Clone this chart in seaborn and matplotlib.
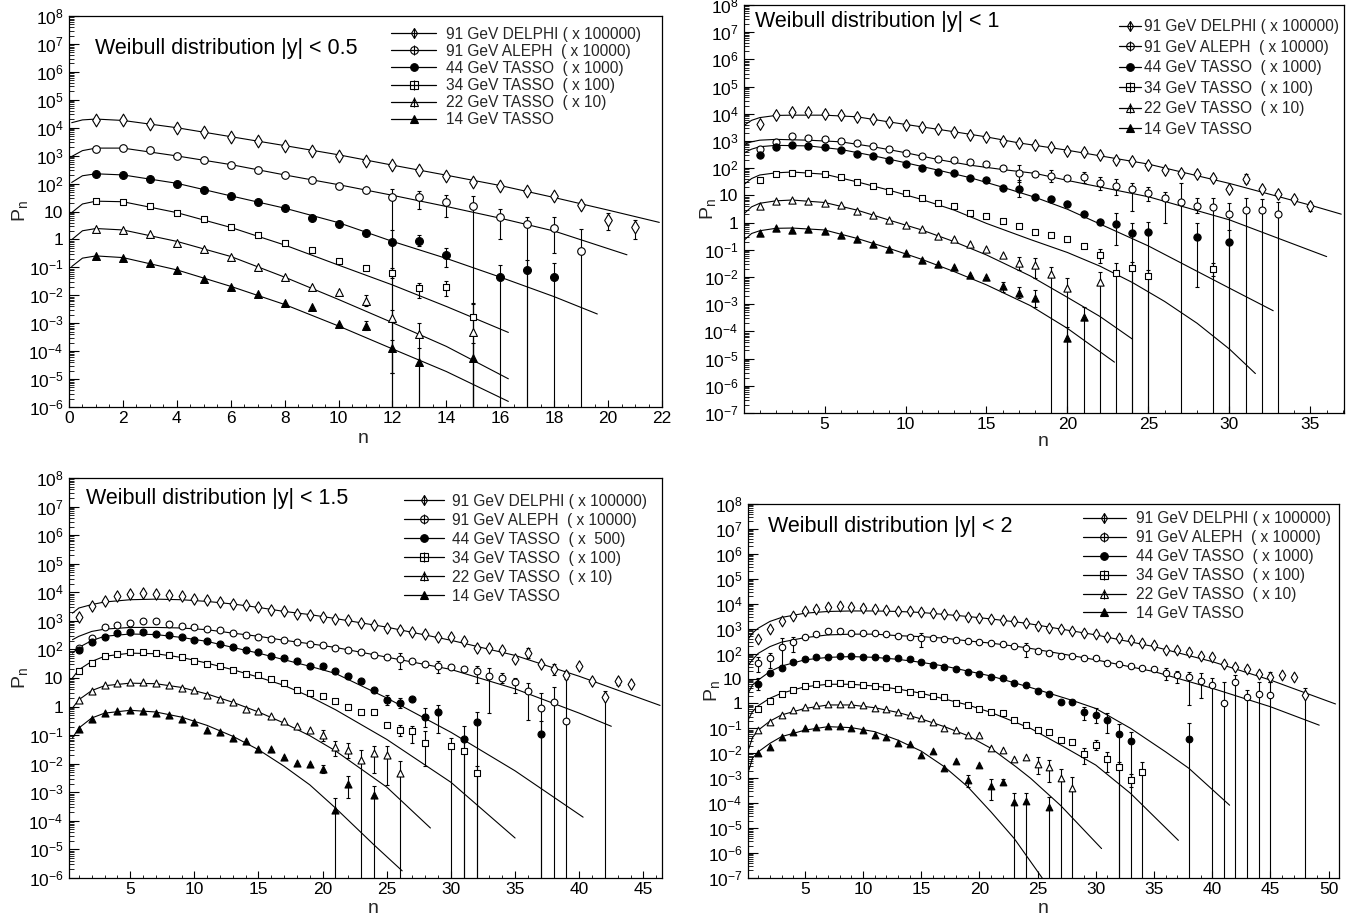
import numpy as np
import matplotlib
matplotlib.use("Agg")
import matplotlib.pyplot as plt
from matplotlib.lines import Line2D
from matplotlib.legend_handler import HandlerTuple
from matplotlib.ticker import MultipleLocator, LogLocator, NullFormatter
import seaborn as sns

# ======================= DATA (log10 P_n) =======================
# error bars: (n, log10 upper end, log10 lower end or None = runs off the bottom)

LABELS_A = ["91 GeV DELPHI ( x 100000)", "91 GeV ALEPH  ( x 10000)", "44 GeV TASSO  ( x 1000)",
            "34 GeV TASSO  ( x 100)", "22 GeV TASSO  ( x 10)", "14 GeV TASSO"]
LABELS_B = ["91 GeV DELPHI ( x 100000)", "91 GeV ALEPH  ( x 10000)", "44 GeV TASSO  ( x  500)",
            "34 GeV TASSO  ( x 100)", "22 GeV TASSO  ( x 10)", "14 GeV TASSO"]
TITLES = ["Weibull distribution |y| < 0.5", "Weibull distribution |y| < 1",
          "Weibull distribution |y| < 1.5", "Weibull distribution |y| < 2"]

# ---------- |y| < 0.5 ----------
p1_delphi_n = list(range(1, 22))
p1_delphi = [4.26, 4.26, 4.14, 3.98, 3.83, 3.67, 3.52, 3.34, 3.17, 3.00, 2.81, 2.65, 2.49, 2.28, 2.06,
             1.93, 1.73, 1.54, 1.25, 0.70, 0.46]
p1_delphi_err = [(20, 0.94, 0.34), (21, 0.68, 0.01)]
p1_delphi_fit_n = [0.1, 0.5, 1, 2, 4, 6, 8, 10, 12, 14, 16, 18, 20, 21.9]
p1_delphi_fit = [4.18, 4.28, 4.31, 4.26, 4.00, 3.68, 3.36, 3.03, 2.66, 2.30, 1.93, 1.50, 1.05, 0.61]

p1_aleph_n = list(range(1, 20))
p1_aleph = [3.24, 3.28, 3.21, 2.99, 2.85, 2.68, 2.48, 2.31, 2.11, 1.92, 1.78, 1.51, 1.51, 1.33, 1.20,
            0.82, 0.56, 0.42, -0.42]
p1_aleph_err = [(12, 1.80, None), (13, 1.72, 1.08), (14, 1.60, 0.82), (15, 1.54, None), (16, 1.08, 0.01),
                (17, 0.82, None), (18, 0.82, -0.49), (19, 0.37, None)]
p1_aleph_fit_n = [0.1, 0.5, 1, 2, 4, 6, 8, 10, 12, 14, 16, 18, 20.7]
p1_aleph_fit = [2.97, 3.18, 3.27, 3.27, 2.99, 2.68, 2.31, 1.96, 1.58, 1.18, 0.76, 0.30, -0.55]

p1_t44_n = list(range(1, 15)) + [16, 17, 18]
p1_t44 = [2.34, 2.29, 2.16, 2.00, 1.78, 1.56, 1.35, 1.12, 0.77, 0.55, 0.23, -0.10, -0.04, -0.54,
          -1.35, -1.09, -1.35]
p1_t44_err = [(12, 0.34, None), (13, 0.17, -0.25), (14, -0.31, -0.97), (16, -0.91, None),
              (17, -0.73, None), (18, -0.85, None)]
p1_t44_fit_n = [0.1, 0.5, 1, 2, 4, 6, 8, 10, 12, 14, 16, 18, 19.6]
p1_t44_fit = [2.04, 2.28, 2.35, 2.31, 2.01, 1.56, 1.12, 0.60, -0.07, -0.68, -1.35, -2.05, -2.67]

p1_t34_n = list(range(1, 16))
p1_t34 = [1.37, 1.35, 1.18, 0.96, 0.73, 0.43, 0.17, -0.11, -0.38, -0.77, -1.03, -1.19, -1.73, -1.72, -2.78]
p1_t34_err = [(12, -1.03, -1.38), (13, -1.56, -2.10), (14, -1.50, -2.04), (15, -2.30, None)]
p1_t34_fit_n = [0.1, 0.5, 1, 2, 4, 6, 8, 10, 12, 14, 16.3]
p1_t34_fit = [0.96, 1.27, 1.37, 1.35, 0.96, 0.43, -0.20, -0.92, -1.63, -2.40, -3.33]

p1_t22_n = list(range(1, 14)) + [15]
p1_t22 = [0.39, 0.32, 0.18, -0.11, -0.35, -0.63, -0.97, -1.36, -1.71, -1.89, -2.20, -2.83, -3.40, -3.33]
p1_t22_err = [(11, -1.98, -2.40), (12, -2.52, -4.78), (13, -3.00, None), (15, -2.28, None)]
p1_t22_fit_n = [0.1, 0.5, 1, 2, 4, 6, 8, 10, 12, 14, 16.3]
p1_t22_fit = [-0.01, 0.31, 0.39, 0.34, -0.07, -0.61, -1.35, -2.15, -2.98, -3.83, -4.99]

p1_t14_n = list(range(1, 14)) + [15]
p1_t14 = [-0.61, -0.67, -0.85, -1.11, -1.42, -1.71, -1.97, -2.28, -2.43, -3.03, -3.10, -3.90, -4.40, -4.25]
p1_t14_err = [(11, -2.93, -3.23), (12, -3.59, -4.78), (13, -3.90, None), (15, -3.71, None)]
p1_t14_fit_n = [0.1, 0.5, 1, 2, 4, 6, 8, 10, 12, 14, 16.3]
p1_t14_fit = [-0.97, -0.67, -0.59, -0.65, -1.09, -1.68, -2.33, -3.10, -3.92, -4.73, -5.80]

# ---------- |y| < 1 ----------
p2_delphi_n = list(range(1, 36))
p2_delphi = [3.62, 3.95, 4.07, 4.07, 4.01, 3.95, 3.89, 3.80, 3.69, 3.58, 3.50, 3.43, 3.34, 3.21, 3.13,
             3.00, 2.94, 2.86, 2.77, 2.65, 2.60, 2.47, 2.30, 2.27, 2.10, 1.95, 1.84, 1.78, 1.65, 1.23,
             1.62, 1.22, 1.05, 0.87, 0.61]
p2_delphi_err = [(31, 1.78, 1.44), (35, 0.77, 0.44)]
p2_delphi_fit_n = [0.05, 0.5, 1, 2, 3, 5, 7, 9, 11, 13, 15, 17, 20, 25, 30, 35, 36.9]
p2_delphi_fit = [3.58, 3.76, 3.86, 3.94, 3.95, 3.95, 3.89, 3.70, 3.52, 3.34, 3.15, 2.93, 2.66, 2.15,
                 1.44, 0.64, 0.31]

p2_aleph_n = list(range(1, 34))
p2_aleph = [2.72, 2.97, 3.18, 3.12, 3.09, 3.00, 2.91, 2.81, 2.69, 2.57, 2.46, 2.33, 2.30, 2.23, 2.15,
            1.99, 1.81, 1.77, 1.71, 1.64, 1.67, 1.46, 1.35, 1.22, 1.07, 0.90, 0.77, 0.61, 0.58, 0.30,
            0.46, 0.46, 0.30]
p2_aleph_err = [(17, 2.11, 1.50), (19, 1.93, 1.50), (21, 1.87, 1.46), (22, 1.68, 1.19), (23, 1.62, 1.00),
                (24, 1.46, 0.44), (25, 1.32, 0.80), (26, 1.13, -0.01), (27, 1.46, None), (28, 0.89, 0.34),
                (29, 0.89, None), (30, 0.71, None), (31, 0.89, None), (32, 0.85, None), (33, 0.77, None)]
p2_aleph_fit_n = [0.05, 0.5, 1, 2, 4, 6, 8, 10, 12, 14, 16, 18, 20, 25, 30, 36]
p2_aleph_fit = [2.88, 2.97, 3.03, 3.06, 3.03, 2.97, 2.79, 2.57, 2.32, 2.11, 1.95, 1.81, 1.55, 0.95,
                0.10, -1.25]

p2_t44_n = list(range(1, 26)) + [28, 30]
p2_t44 = [2.48, 2.79, 2.85, 2.82, 2.79, 2.66, 2.52, 2.46, 2.30, 2.17, 1.99, 1.87, 1.81, 1.65, 1.56,
          1.29, 1.22, 0.95, 0.85, 0.67, 0.30, 0.02, -0.05, -0.40, -0.33, -0.54, -0.70]
p2_t44_err = [(17, 1.56, 0.95), (23, 0.34, -0.83), (24, -0.03, None), (25, 0.03, None),
              (28, -0.03, -2.36), (30, -0.27, None)]
p2_t44_fit_n = [0.05, 0.5, 1, 2, 4, 6, 8, 10, 12, 14, 16, 18, 20, 25, 30, 32.7]
p2_t44_fit = [2.57, 2.70, 2.79, 2.84, 2.82, 2.69, 2.46, 2.20, 1.93, 1.65, 1.30, 0.93, 0.49, -0.86,
              -2.41, -3.24]

p2_t34_n = list(range(1, 26)) + [29]
p2_t34 = [1.56, 1.78, 1.84, 1.81, 1.77, 1.66, 1.49, 1.35, 1.17, 1.10, 0.89, 0.71, 0.61, 0.37, 0.25,
          0.07, -0.12, -0.36, -0.47, -0.62, -0.85, -1.19, -1.87, -1.66, -1.96, -1.72]
p2_t34_err = [(22, -0.98, -1.50), (23, -1.50, None), (24, -1.44, None), (25, -1.74, None),
              (29, -1.50, -1.95)]
p2_t34_fit_n = [0.05, 0.5, 1, 2, 3, 5, 7, 9, 11, 13, 15, 17.7, 20, 22, 24, 26, 28, 30, 31.6]
p2_t34_fit = [1.41, 1.62, 1.75, 1.83, 1.86, 1.78, 1.50, 1.19, 0.85, 0.46, -0.03, -0.62, -1.10, -1.60,
              -2.20, -2.90, -3.70, -4.65, -5.55]

p2_t22_n = list(range(1, 21)) + [22]
p2_t22 = [0.62, 0.79, 0.83, 0.79, 0.73, 0.64, 0.44, 0.28, 0.09, -0.09, -0.25, -0.49, -0.62, -0.79,
          -0.96, -1.19, -1.47, -1.56, -1.90, -2.42, -2.17]
p2_t22_err = [(17, -1.25, -1.74), (18, -1.31, -2.05), (19, -1.62, None), (20, -2.05, None),
              (22, -1.80, None)]
p2_t22_fit_n = [0.05, 0.5, 1, 2, 3, 5, 7, 9, 11, 13, 15, 17.7, 20, 22, 24]
p2_t22_fit = [0.34, 0.58, 0.71, 0.80, 0.83, 0.74, 0.46, 0.09, -0.27, -0.70, -1.19, -1.96, -2.75,
              -3.45, -4.28]

p2_t14_n = list(range(1, 19)) + [20, 21]
p2_t14 = [-0.40, -0.21, -0.27, -0.25, -0.31, -0.46, -0.62, -0.79, -0.97, -1.13, -1.38, -1.52, -1.62,
          -1.94, -1.99, -2.33, -2.58, -2.76, -4.25, -3.48]
p2_t14_err = [(16, -2.17, -2.54), (17, -2.36, -2.78), (18, -2.48, -3.09), (20, -3.82, None),
              (21, -3.09, None)]
p2_t14_fit_n = [0.05, 0.5, 1, 2, 3, 5, 7, 9, 11, 13, 15, 17.7, 20, 22.9]
p2_t14_fit = [-0.64, -0.40, -0.30, -0.21, -0.20, -0.27, -0.58, -0.95, -1.35, -1.80, -2.29, -3.05,
              -3.89, -5.13]

# ---------- |y| < 1.5 ----------
p3_delphi_n = list(range(1, 45))
p3_delphi = [3.12, 3.51, 3.71, 3.86, 3.94, 3.96, 3.94, 3.92, 3.86, 3.78, 3.72, 3.66, 3.59, 3.54, 3.47,
             3.37, 3.33, 3.25, 3.19, 3.15, 3.08, 3.02, 2.92, 2.84, 2.75, 2.69, 2.60, 2.53, 2.43, 2.42,
             2.28, 2.05, 2.05, 1.99, 1.66, 1.87, 1.49, 1.31, 1.09, 1.41, 0.91, 0.32, 0.91, 0.79]
p3_delphi_err = [(36, 2.05, 1.70), (38, 1.49, 1.12), (39, 1.25, 0.95), (42, 0.53, None), (43, 1.00, 0.77)]
p3_delphi_fit_n = [0.5, 1, 2, 3, 5, 7, 9, 11, 13, 15, 17, 19, 21, 25, 30, 35, 40, 46.3]
p3_delphi_fit = [3.27, 3.45, 3.57, 3.66, 3.74, 3.76, 3.74, 3.68, 3.59, 3.47, 3.33, 3.22, 3.08, 2.78,
                 2.32, 1.79, 1.06, 0.04]

p3_aleph_n = list(range(1, 40))
p3_aleph = [2.05, 2.40, 2.77, 2.87, 2.92, 3.01, 2.98, 2.89, 2.81, 2.77, 2.73, 2.67, 2.57, 2.49, 2.43,
            2.38, 2.32, 2.25, 2.20, 2.14, 2.05, 1.99, 1.90, 1.82, 1.72, 1.68, 1.58, 1.49, 1.43, 1.40,
            1.33, 1.26, 1.08, 1.00, 0.86, 0.53, -0.05, 0.15, -0.52]
p3_aleph_err = [(26, 1.87, 1.33), (29, 1.58, 1.17), (32, 1.41, 0.82), (33, 1.35, -0.23), (34, 1.17, 0.82),
                (35, 1.00, 0.47), (36, 0.82, -0.46), (37, 0.47, None), (38, 0.67, None), (39, 1.12, None)]
p3_aleph_fit_n = [0.5, 1, 2, 3, 5, 7, 9, 11, 13, 15, 17, 19, 21, 25, 30, 35, 40, 42.5]
p3_aleph_fit = [2.34, 2.46, 2.63, 2.71, 2.77, 2.77, 2.75, 2.69, 2.57, 2.46, 2.32, 2.20, 2.07, 1.73,
                1.30, 0.62, -0.23, -0.69]

p3_t44_n = list(range(1, 30)) + [31, 32, 37]
p3_t44 = [1.99, 2.26, 2.42, 2.57, 2.61, 2.60, 2.54, 2.52, 2.43, 2.34, 2.28, 2.19, 2.07, 1.99, 1.91,
          1.78, 1.70, 1.58, 1.43, 1.41, 1.23, 1.06, 0.91, 0.59, 0.24, 0.12, 0.28, -0.37, -0.19,
          -1.12, -0.54, -0.96]
p3_t44_err = [(25, 0.42, 0.07), (26, 0.30, -0.05), (28, -0.05, -0.70), (29, 0.07, -0.93),
              (31, -0.69, None), (32, -0.19, None), (37, -0.52, None)]
p3_t44_fit_n = [0.5, 1, 2, 3, 5, 7, 9, 11, 13, 15, 17, 19, 21, 25, 30, 35, 40.3]
p3_t44_fit = [1.87, 2.07, 2.31, 2.46, 2.54, 2.52, 2.42, 2.28, 2.07, 1.87, 1.64, 1.41, 1.16, 0.30,
              -0.90, -2.25, -3.87]

p3_t34_n = list(range(1, 29)) + [30, 31, 32]
p3_t34 = [1.26, 1.52, 1.76, 1.85, 1.90, 1.90, 1.87, 1.79, 1.72, 1.61, 1.49, 1.41, 1.27, 1.15, 1.09,
          0.96, 0.81, 0.59, 0.47, 0.38, 0.18, -0.03, -0.19, -0.19, -0.66, -0.81, -0.87, -1.28,
          -1.39, -1.54, -2.33]
p3_t34_err = [(26, -0.63, -1.04), (27, -0.69, -1.28), (28, -0.87, -2.09), (30, -1.10, None),
              (31, -1.10, None), (32, -2.09, None)]
p3_t34_fit_n = [0.5, 1, 2, 3, 5, 7, 9, 11, 13, 15, 17, 19, 21, 25, 30, 35]
p3_t34_fit = [1.00, 1.29, 1.58, 1.76, 1.87, 1.85, 1.72, 1.52, 1.29, 1.03, 0.74, 0.35, -0.11, -1.15,
              -2.65, -4.60]

p3_t22_n = list(range(1, 27))
p3_t22 = [0.24, 0.53, 0.77, 0.82, 0.85, 0.86, 0.81, 0.77, 0.65, 0.57, 0.42, 0.26, 0.15, -0.07, -0.14,
          -0.34, -0.49, -0.69, -0.83, -1.01, -1.43, -1.51, -1.86, -1.63, -1.69, -2.33]
p3_t22_err = [(20, -0.81, -1.22), (21, -1.22, -1.74), (22, -1.28, -1.80), (23, -1.51, None),
              (24, -1.39, -2.33), (25, -1.39, -2.74), (26, -1.92, None)]
p3_t22_fit_n = [0.5, 1, 2, 3, 5, 7, 9, 11, 13, 15, 17, 19, 21, 25, 28.4]
p3_t22_fit = [-0.05, 0.24, 0.56, 0.73, 0.82, 0.80, 0.67, 0.44, 0.15, -0.19, -0.58, -1.02, -1.55,
              -2.82, -4.25]

p3_t14_n = list(range(1, 23)) + [24]
p3_t14 = [-0.77, -0.42, -0.23, -0.17, -0.13, -0.14, -0.23, -0.28, -0.42, -0.54, -0.81, -0.90, -1.10,
          -1.20, -1.48, -1.48, -1.78, -1.98, -2.00, -2.18, -3.61, -2.71, -3.09]
p3_t14_err = [(20, -2.03, -2.33), (21, -3.20, None), (22, -2.44, -3.20), (24, -2.79, None)]
p3_t14_fit_n = [0.5, 1, 2, 3, 5, 7, 9, 11, 13, 15, 17, 19, 21, 24, 26.2]
p3_t14_fit = [-1.10, -0.75, -0.40, -0.23, -0.13, -0.19, -0.37, -0.66, -1.04, -1.51, -2.09, -2.74,
              -3.55, -4.84, -5.75]

# ---------- |y| < 2 ----------
p4_delphi_n = list(range(1, 49))
p4_delphi = [2.59, 2.98, 3.29, 3.49, 3.69, 3.78, 3.85, 3.89, 3.85, 3.82, 3.79, 3.75, 3.71, 3.69, 3.66,
             3.62, 3.58, 3.53, 3.45, 3.42, 3.39, 3.35, 3.31, 3.22, 3.11, 3.04, 2.98, 2.92, 2.84, 2.78,
             2.68, 2.62, 2.55, 2.42, 2.35, 2.15, 2.15, 2.05, 1.92, 1.88, 1.59, 1.48, 1.38, 1.17, 1.08,
             1.14, 1.08, 0.34]
p4_delphi_err = [(45, 1.28, 0.88), (48, 0.61, None)]
p4_delphi_fit_n = [0.2, 0.5, 1, 2, 3, 5, 7, 9, 11, 13, 15, 17, 19, 21, 24, 30, 35, 40, 45, 50.6]
p4_delphi_fit = [2.62, 2.82, 3.02, 3.29, 3.45, 3.62, 3.69, 3.71, 3.71, 3.69, 3.65, 3.57, 3.49, 3.39,
                 3.22, 2.75, 2.28, 1.68, 0.94, -0.02]

p4_aleph_n = list(range(1, 46))
p4_aleph = [1.61, 1.81, 2.28, 2.48, 2.66, 2.78, 2.91, 2.91, 2.84, 2.82, 2.82, 2.78, 2.72, 2.68, 2.64,
            2.62, 2.59, 2.55, 2.51, 2.48, 2.42, 2.38, 2.31, 2.21, 2.11, 2.01, 1.92, 1.92, 1.84, 1.81,
            1.61, 1.57, 1.52, 1.41, 1.37, 1.21, 1.14, 1.08, 0.90, 0.74, 0.00, 0.88, 0.27, 0.37, 0.34]
p4_aleph_err = [(1, 1.88, 1.28), (2, 2.01, 1.41), (3, 2.62, 1.54), (4, 2.68, 2.08), (15, 2.82, 2.28),
                (24, 2.42, 1.88), (36, 1.41, 0.94), (37, 1.30, 0.81), (38, 1.28, -0.06), (39, 1.21, 0.21),
                (40, 1.01, None), (41, 0.88, None), (42, 1.14, None), (43, 0.54, None), (44, 0.88, None),
                (45, 0.88, None)]
p4_aleph_fit_n = [0.2, 0.5, 1, 2, 3, 5, 7, 9, 11, 13, 15, 17, 19, 21, 24, 30, 35, 40, 45, 49.2]
p4_aleph_fit = [1.57, 1.75, 2.01, 2.28, 2.46, 2.64, 2.75, 2.78, 2.78, 2.72, 2.68, 2.62, 2.51, 2.42,
                2.24, 1.75, 1.28, 0.61, -0.13, -0.87]

p4_t44_n = list(range(1, 34)) + [38]
p4_t44 = [0.78, 1.21, 1.44, 1.65, 1.79, 1.85, 1.88, 1.91, 1.92, 1.88, 1.88, 1.84, 1.81, 1.77, 1.65,
          1.54, 1.48, 1.37, 1.28, 1.17, 1.08, 1.04, 0.84, 0.74, 0.51, 0.37, 0.05, 0.05, -0.33, -0.46,
          -0.68, -1.24, -1.51, -1.44]
p4_t44_err = [(1, 1.01, 0.54), (29, -0.13, -0.66), (30, -0.20, -0.80), (31, -0.40, -1.20),
              (32, -0.84, None), (33, -1.13, None), (38, -0.80, None)]
p4_t44_fit_n = [0.2, 0.5, 1, 2, 3, 5, 7, 9, 11, 13, 15, 17, 19, 21, 24.4, 28, 30, 33, 36, 38, 41.5]
p4_t44_fit = [0.47, 0.74, 0.94, 1.28, 1.50, 1.75, 1.85, 1.88, 1.85, 1.77, 1.65, 1.50, 1.30, 1.10, 0.64,
              0.12, -0.20, -1.00, -1.94, -2.60, -4.08]

p4_t34_n = list(range(1, 35))
p4_t34 = [-0.22, 0.11, 0.37, 0.54, 0.71, 0.77, 0.81, 0.81, 0.78, 0.74, 0.71, 0.67, 0.58, 0.47, 0.37,
          0.31, 0.25, 0.03, -0.06, -0.22, -0.33, -0.40, -0.66, -0.87, -1.07, -1.13, -1.47, -1.56,
          -2.04, -1.67, -2.23, -2.54, -3.08, -2.74]
p4_t34_err = [(29, -1.80, -2.41), (30, -1.47, -1.87), (31, -1.94, -2.74), (32, -2.34, None),
              (33, -2.81, -3.34), (34, -2.34, None)]
p4_t34_fit_n = [0.2, 0.5, 1, 2, 3, 5, 7, 9, 11, 13, 15, 17, 19, 21, 24.4, 27, 30, 33, 37.1]
p4_t34_fit = [-0.60, -0.33, -0.09, 0.21, 0.41, 0.67, 0.77, 0.77, 0.70, 0.58, 0.41, 0.18, -0.06, -0.36,
              -1.00, -1.67, -2.47, -3.61, -5.49]

p4_t22_n = list(range(1, 29))
p4_t22 = [-1.07, -0.76, -0.46, -0.26, -0.16, -0.06, -0.04, -0.02, -0.04, -0.06, -0.17, -0.24, -0.36,
          -0.46, -0.57, -0.76, -1.00, -1.07, -1.27, -1.27, -1.80, -1.87, -2.23, -2.14, -2.41, -2.54,
          -2.97, -3.41]
p4_t22_err = [(25, -2.14, -2.81), (26, -2.27, -3.14), (27, -2.61, None), (28, -2.94, None)]
p4_t22_fit_n = [0.2, 0.5, 1, 2, 3, 5, 7, 9, 11, 13, 15, 17, 19, 21, 23.15, 24.4, 27, 30.5]
p4_t22_fit = [-1.80, -1.37, -1.07, -0.71, -0.46, -0.20, -0.06, -0.06, -0.17, -0.36, -0.62, -0.93,
              -1.29, -1.80, -2.54, -3.00, -4.10, -5.82]

p4_t14_n = list(range(1, 25)) + [26]
p4_t14 = [-2.00, -1.74, -1.33, -1.13, -1.00, -0.93, -0.91, -0.91, -1.00, -1.07, -1.27, -1.33, -1.60,
          -1.64, -2.07, -1.91, -2.57, -2.31, -3.05, -2.47, -3.30, -3.14, -3.97, -3.92, -4.15]
p4_t14_err = [(19, -2.87, -3.34), (21, -3.01, -3.88), (22, -3.01, -3.28), (23, -3.61, None),
              (24, -3.61, None), (26, -3.74, None)]
p4_t14_fit_n = [0.2, 0.5, 1, 2, 3, 5, 7, 9, 11, 13, 15, 17, 19, 21, 23, 25.4]
p4_t14_fit = [-2.67, -2.20, -1.94, -1.60, -1.33, -1.07, -0.93, -0.97, -1.13, -1.47, -1.91, -2.54,
              -3.34, -4.35, -5.42, -7.00]

# ======================= STYLE / LAYOUT =======================
sns.set_theme(style="ticks")
plt.rcParams["font.family"] = ["Liberation Sans", "DejaVu Sans"]
plt.rcParams["mathtext.default"] = "regular"
plt.rcParams["axes.linewidth"] = 0.9
plt.rcParams["legend.numpoints"] = 1

KEYS = ["delphi", "aleph", "t44", "t34", "t22", "t14"]
STYLE = {
    "delphi": dict(marker="d", filled=False, s=42, cross=True),
    "aleph": dict(marker="o", filled=False, s=30, cross=True),
    "t44": dict(marker="o", filled=True, s=32, cross=False),
    "t34": dict(marker="s", filled=False, s=25, cross=True),
    "t22": dict(marker="^", filled=False, s=32, cross=True),
    "t14": dict(marker="^", filled=True, s=32, cross=False),
}

W, H = 1356, 917


def rect(left, right, top, bottom):
    return [left / W, 1 - bottom / H, (right - left) / W, (bottom - top) / H]


def series_of(prefix):
    g = globals()
    out = []
    for k in KEYS:
        out.append((g[f"{prefix}_{k}_n"], g[f"{prefix}_{k}"], g[f"{prefix}_{k}_err"],
                    g[f"{prefix}_{k}_fit_n"], g[f"{prefix}_{k}_fit"]))
    return out


PANELS = [
    dict(prefix="p1", rect=rect(69, 662, 16, 407), xlim=(0, 22), ymin=-6, xmaj=2, xmin=0.5,
         title=TITLES[0], title_xy=(0.044, 0.918), labels=LABELS_A, msc=1.0,
         leg=dict(anchor=(0.543, 0.973), hl=2.9, htp=0.64, ls=0.14),
         ylab_x=-0.066, xlab_xy=(0.496, -0.059)),
    dict(prefix="p2", rect=rect(744, 1344, 5, 413), xlim=(0.03, 37.07), ymin=-7, xmaj=5, xmin=1,
         title=TITLES[1], title_xy=(0.018, 0.959), labels=LABELS_A, msc=0.85,
         leg=dict(anchor=(0.625, 0.965), hl=1.4, htp=0.2, ls=0.35),
         ylab_x=-0.043, xlab_xy=(0.498, -0.049)),
    dict(prefix="p3", rect=rect(69, 662, 478, 878), xlim=(0.23, 46.45), ymin=-6, xmaj=5, xmin=1,
         title=TITLES[2], title_xy=(0.029, 0.949), labels=LABELS_B, msc=0.8,
         leg=dict(anchor=(0.565, 0.961), hl=2.6, htp=0.5, ls=0.26),
         ylab_x=-0.066, xlab_xy=(0.513, -0.055)),
    dict(prefix="p4", rect=rect(748, 1339, 504, 878), xlim=(0.12, 50.9), ymin=-7, xmaj=5, xmin=1,
         title=TITLES[3], title_xy=(0.033, 0.939), labels=LABELS_A, msc=0.72,
         leg=dict(anchor=(0.567, 0.980), hl=2.75, htp=0.64, ls=0.25),
         ylab_x=-0.044, xlab_xy=(0.499, -0.059)),
]


def ytick_label(e):
    if e == 0:
        return "1"
    if e == 1:
        return "10"
    return "$10^{%d}$" % e


def legend_handle(st):
    line = Line2D([], [], color="black", lw=0.9, marker=st["marker"], markersize=5.5,
                  markerfacecolor="black" if st["filled"] else "none",
                  markeredgecolor="black", markeredgewidth=0.8)
    if st["cross"]:
        bar = Line2D([], [], color="black", ls="none", marker="|", markersize=7.5,
                     markeredgewidth=0.8)
        return (line, bar)
    return line


fig = plt.figure(figsize=(W / 100, H / 100), dpi=100)

for P in PANELS:
    ax = fig.add_axes(P["rect"])
    ax.set_yscale("log")
    bottom = 10.0 ** P["ymin"]
    for key, (n, lv, err, fn, fv) in zip(KEYS, series_of(P["prefix"])):
        st = STYLE[key]
        sns.lineplot(x=fn, y=10.0 ** np.asarray(fv), ax=ax, color="black", linewidth=0.8,
                     sort=False, estimator=None, legend=False, zorder=2)
        if err:
            lookup = dict(zip(n, lv))
            en = [e[0] for e in err]
            yc = np.array([10.0 ** lookup[e[0]] for e in err])
            hi = np.array([10.0 ** e[1] for e in err])
            lo = np.array([10.0 ** e[2] if e[2] is not None else bottom * 1e-3 for e in err])
            ax.errorbar(en, yc, yerr=[np.clip(yc - lo, 0, None), np.clip(hi - yc, 0, None)],
                        fmt="none", ecolor="black", elinewidth=0.8, capsize=1.6, capthick=0.8,
                        zorder=3)
        sns.scatterplot(x=n, y=10.0 ** np.asarray(lv), ax=ax, marker=st["marker"],
                        s=st["s"] * P["msc"], color="black" if st["filled"] else "white",
                        edgecolor="black", linewidth=0.8, zorder=4, legend=False)

    ax.set_xlim(*P["xlim"])
    ax.set_ylim(bottom, 1e8)
    exps = list(range(P["ymin"], 9))
    ax.set_yticks([10.0 ** e for e in exps])
    ax.set_yticklabels([ytick_label(e) for e in exps])
    ax.yaxis.set_minor_locator(LogLocator(base=10, subs=np.arange(2, 10) * 1.0, numticks=100))
    ax.yaxis.set_minor_formatter(NullFormatter())
    ax.xaxis.set_major_locator(MultipleLocator(P["xmaj"]))
    ax.xaxis.set_minor_locator(MultipleLocator(P["xmin"]))
    ax.tick_params(axis="both", which="both", direction="in", top=False, right=False, colors="black")
    ax.tick_params(axis="y", which="major", length=7, width=0.8, pad=4, labelsize=12.5)
    ax.tick_params(axis="y", which="minor", length=3.5, width=0.6)
    ax.tick_params(axis="x", which="major", length=5, width=0.8, pad=3, labelsize=12.5)
    ax.tick_params(axis="x", which="minor", length=2.5, width=0.6)
    for sp in ax.spines.values():
        sp.set_color("black")
        sp.set_linewidth(0.9)

    ax.set_ylabel("$P_n$", fontsize=14)
    ax.yaxis.set_label_coords(P["ylab_x"], 0.5)
    ax.set_xlabel("n", fontsize=14)
    ax.xaxis.set_label_coords(*P["xlab_xy"])

    ax.text(P["title_xy"][0], P["title_xy"][1], P["title"], transform=ax.transAxes,
            fontsize=15.5, va="center", ha="left", color="black")

    handles = [legend_handle(STYLE[k]) for k in KEYS]
    L = P["leg"]
    ax.legend(handles, P["labels"], loc="upper left", bbox_to_anchor=L["anchor"],
              frameon=False, fontsize=11.2, handlelength=L["hl"], handletextpad=L["htp"],
              labelspacing=L["ls"], borderpad=0, borderaxespad=0,
              handler_map={tuple: HandlerTuple(ndivide=1, pad=0)})

fig.savefig("out.png", dpi=100)
